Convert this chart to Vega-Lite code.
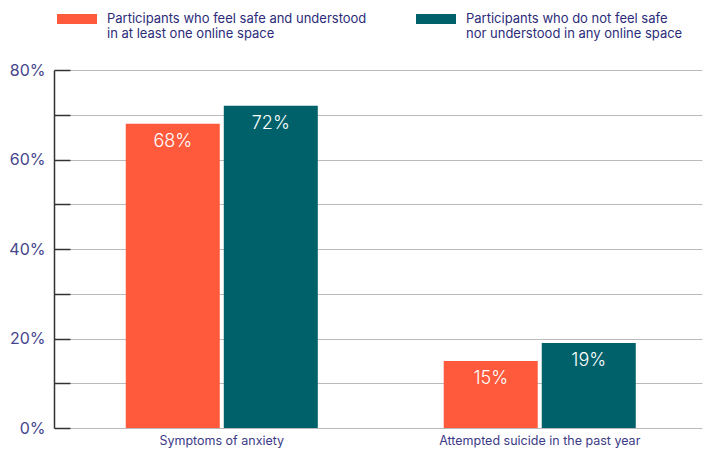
{
  "$schema": "https://vega.github.io/schema/vega-lite/v6.json",
  "width": 648,
  "height": 358,
  "autosize": {"type": "none"},
  "padding": {"left": 54, "top": 70, "right": 5, "bottom": 22},
  "background": "white",
  "config": {
    "font": "Inter",
    "view": {"stroke": null}
  },
  "data": {
    "values": [
      {"measure": "Symptoms of anxiety", "group": "Safe", "value": 68},
      {"measure": "Symptoms of anxiety", "group": "Not safe", "value": 72},
      {"measure": "Attempted suicide in the past year", "group": "Safe", "value": 15},
      {"measure": "Attempted suicide in the past year", "group": "Not safe", "value": 19}
    ]
  },
  "encoding": {
    "x": {
      "field": "measure",
      "type": "nominal",
      "sort": ["Symptoms of anxiety", "Attempted suicide in the past year"],
      "scale": {"paddingInner": 0.396, "paddingOuter": 0.217, "align": 0.52},
      "axis": {
        "title": null,
        "labelAngle": 0,
        "domain": false,
        "ticks": false,
        "labelFontSize": 12.5,
        "labelColor": "#3b3b86",
        "labelPadding": 6,
        "labelLimit": 400
      }
    },
    "xOffset": {
      "field": "group",
      "type": "nominal",
      "sort": ["Safe", "Not safe"],
      "scale": {"paddingInner": 0.041}
    },
    "y": {
      "field": "value",
      "type": "quantitative",
      "scale": {"domain": [0, 80], "nice": false},
      "axis": {
        "title": null,
        "values": [0, 10, 20, 30, 40, 50, 60, 70, 80],
        "labelExpr": "datum.value % 20 == 0 ? datum.value + '%' : ''",
        "labelFontSize": 16,
        "labelColor": "#45458c",
        "labelPadding": 25,
        "tickSize": -16,
        "tickColor": "#333333",
        "tickWidth": 1.5,
        "domainColor": "#333333",
        "domainWidth": 1.5,
        "grid": true,
        "gridColor": "#bbbbbb",
        "gridWidth": 1.2
      }
    }
  },
  "layer": [
    {
      "mark": {"type": "bar"},
      "encoding": {
        "color": {
          "field": "group",
          "type": "nominal",
          "scale": {"domain": ["Safe", "Not safe"], "range": ["#ff5a3c", "#00616a"]},
          "legend": {
            "title": null,
            "orient": "none",
            "direction": "horizontal",
            "legendX": 13,
            "legendY": -61,
            "columns": 2,
            "columnPadding": 49,
            "symbolType": "M-2,-0.5H2V0.5H-2Z",
            "symbolSize": 400,
            "symbolStrokeWidth": 0,
            "labelFontSize": 13,
            "labelColor": "#2c2c7a",
            "labelOffset": 20,
            "labelLimit": 400,
            "labelExpr": "datum.label == 'Safe' ? ['Participants who feel safe and understood', 'in at least one online space'] : ['Participants who do not feel safe', 'nor understood in any online space']"
          }
        }
      }
    },
    {
      "transform": [{"calculate": "datum.value + '%'", "as": "label"}],
      "mark": {"type": "text", "baseline": "top", "dy": 9, "color": "white", "fontSize": 18, "fontWeight": 300},
      "encoding": {
        "text": {"field": "label", "type": "nominal"},
        "detail": {"field": "group"}
      }
    }
  ]
}
